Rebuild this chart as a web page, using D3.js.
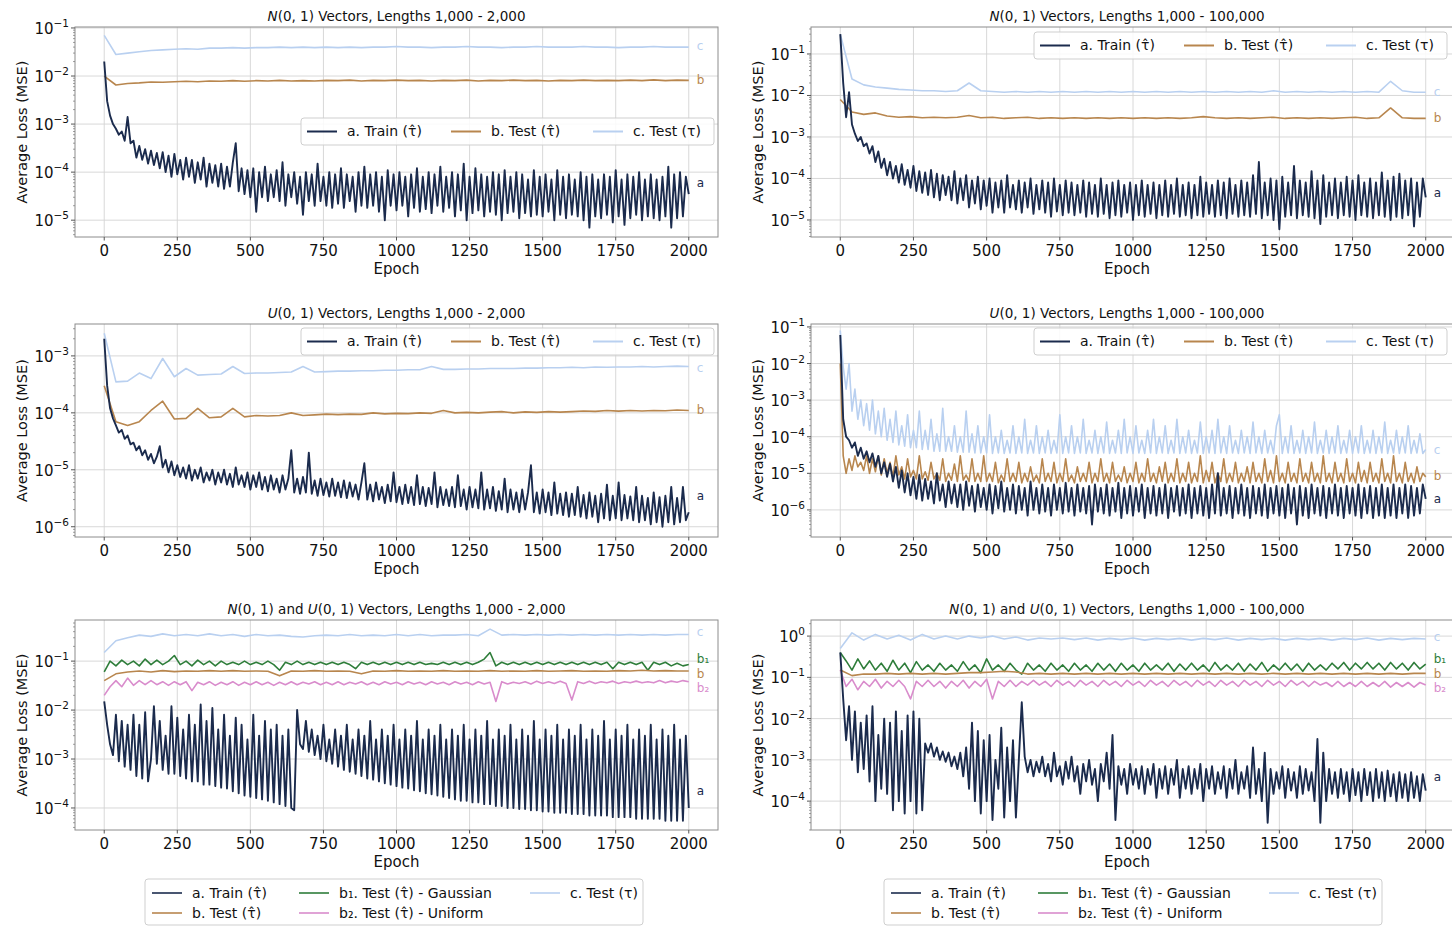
<!DOCTYPE html>
<html>
<head>
<meta charset="utf-8">
<script src="https://cdn.jsdelivr.net/npm/d3@7"></script>
<style>
body { margin: 0; background: #fff; }
svg { display: block; font-family: "DejaVu Sans", sans-serif; }
</style>
</head>
<body>
<svg id="chart" width="1452" height="926"></svg>
<script>
// epochs 0..2000, each array evenly spaced over that range

// ---- N(0,1), lengths 1,000 - 2,000
var p1A = [2e-2,3e-3,1.5e-3,1e-3,8e-4,6e-4,7e-4,4.5e-4,1.4e-3,4e-4,
4.5e-4,2e-4,3.5e-4,1.8e-4,3e-4,1.5e-4,2.8e-4,1.4e-4,2.5e-4,1.2e-4,
2.6e-4,1e-4,2.2e-4,8e-5,2.4e-4,9e-5,1.8e-4,7e-5,2e-4,8e-5,
1.8e-4,6e-5,1.6e-4,7e-5,2e-4,5e-5,1.5e-4,6e-5,1.4e-4,5e-5,
1.5e-4,4.5e-5,1.3e-4,5e-5,1.6e-4,4e-4,4e-5,1.2e-4,3.5e-5,1.1e-4,
3e-5,1.2e-4,1.5e-5,1e-4,3e-5,1.3e-4,2.5e-5,9e-5,3e-5,1.1e-4,
2.5e-5,1.6e-4,2e-5,9e-5,3e-5,1e-4,2.2e-5,8e-5,1.3e-5,1e-4,
2.5e-5,9e-5,2e-5,1.5e-4,2.5e-5,8e-5,2e-5,1e-4,1.8e-5,9e-5,
2.2e-5,1.2e-4,1.8e-5,9e-5,2.5e-5,8e-5,1.5e-5,1e-4,2e-5,1.3e-4,
1.8e-5,9e-5,2e-5,1e-4,1.5e-5,8e-5,1e-5,1.1e-4,2e-5,9e-5,
1.6e-5,1e-4,2e-5,8e-5,1.2e-5,9e-5,1.8e-5,1.2e-4,1.5e-5,8e-5,
1.7e-5,1e-4,1.4e-5,9e-5,2e-5,1.3e-4,1.5e-5,8e-5,1.8e-5,1e-4,
1.2e-5,9e-5,1.6e-5,1.5e-4,1e-5,8e-5,1.4e-5,1.2e-4,1.6e-5,9e-5,
1.2e-5,8e-5,1.5e-5,1e-4,1.3e-5,9e-5,1e-5,1.1e-4,1.4e-5,8e-5,
1.5e-5,1e-4,1.1e-5,9e-5,1.4e-5,7e-5,1.2e-5,1.1e-4,1.3e-5,8e-5,
1.2e-5,9e-5,1.5e-5,7e-5,1e-5,1.1e-4,1.3e-5,8e-5,1.1e-5,9e-5,
1.3e-5,7e-5,1.2e-5,1e-4,1e-5,8e-5,7e-6,9e-5,1.2e-5,7e-5,
1.1e-5,9e-5,1.3e-5,8e-5,9e-6,1.1e-4,1.2e-5,7e-5,8e-6,9e-5,
1.1e-5,8e-5,1.3e-5,1e-4,1e-5,7e-5,1.2e-5,9e-5,1.1e-5,7e-5,
1e-5,8e-5,1.2e-5,1.3e-4,7e-6,9e-5,1.1e-5,1e-4,1.2e-5,8e-5,
3.5e-5];
var p1B = [1e-2,6.5e-3,7e-3,7.2e-3,7.5e-3,7.4e-3,7.6e-3,7.8e-3,7.6e-3,7.9e-3,
7.8e-3,8e-3,7.8e-3,8e-3,7.9e-3,8.1e-3,7.9e-3,8e-3,7.9e-3,8.1e-3,
8e-3,8.2e-3,7.9e-3,8.1e-3,8e-3,8.2e-3,8e-3,8.1e-3,7.9e-3,8.1e-3,
8e-3,8.2e-3,7.9e-3,8.1e-3,8e-3,8.2e-3,8e-3,8.1e-3,7.9e-3,8.1e-3,
8e-3,8.2e-3,8e-3,8.1e-3,8e-3,8.2e-3,8e-3,8.3e-3,8e-3,8.2e-3,
8.1e-3];
var p1C = [7e-2,2.8e-2,3e-2,3.2e-2,3.4e-2,3.5e-2,3.6e-2,3.7e-2,3.6e-2,3.8e-2,
3.8e-2,3.9e-2,3.8e-2,3.9e-2,3.9e-2,4e-2,3.9e-2,4e-2,3.9e-2,4e-2,
3.9e-2,4e-2,3.9e-2,4e-2,4e-2,4.1e-2,4e-2,4e-2,3.9e-2,4e-2,
4e-2,4.1e-2,4e-2,4e-2,3.9e-2,4e-2,4e-2,4.1e-2,4e-2,4e-2,
4e-2,4.1e-2,4e-2,4e-2,3.9e-2,4e-2,4e-2,4.1e-2,4e-2,4e-2,
4e-2];

// ---- N(0,1), lengths 1,000 - 100,000
var p2A = [3e-1,2e-2,3e-3,1.2e-2,2e-3,1.2e-3,8e-4,1e-3,6e-4,7e-4,
4e-4,6e-4,2.5e-4,4.5e-4,1.8e-4,3e-4,1.2e-4,2.5e-4,1e-4,2e-4,
8e-5,2.2e-4,7e-5,1.6e-4,6e-5,2e-4,5e-5,1.5e-4,4.5e-5,1.4e-4,
4e-5,1.6e-4,3.5e-5,1.3e-4,3e-5,1.2e-4,4e-5,1.1e-4,3e-5,1.5e-4,
2.5e-5,1e-4,3e-5,1.2e-4,2e-5,9e-5,2.5e-5,1.1e-4,1.8e-5,9e-5,
2.2e-5,1e-4,1.5e-5,8e-5,2e-5,9e-5,1.5e-5,1.2e-4,2e-5,7e-5,
1.8e-5,9e-5,1.5e-5,8e-5,2e-5,1e-4,1.4e-5,7e-5,1.8e-5,9e-5,
1.5e-5,8e-5,1.2e-5,1e-4,1.6e-5,7e-5,1.3e-5,9e-5,1.5e-5,8e-5,
1.3e-5,7e-5,1.5e-5,9e-5,1.2e-5,8e-5,1.4e-5,7e-5,1.2e-5,1e-4,
1.4e-5,7e-5,1.1e-5,8e-5,1.3e-5,9e-5,1.2e-5,7e-5,1.5e-5,8e-5,
1e-5,7e-5,1.3e-5,9e-5,1.2e-5,7e-5,1.4e-5,8e-5,1.1e-5,7e-5,
1.3e-5,9e-5,1.2e-5,7e-5,1.4e-5,1e-4,1.2e-5,7e-5,1.3e-5,8e-5,
1.1e-5,7e-5,1.3e-5,1.1e-4,1.2e-5,8e-5,1.4e-5,7e-5,1.2e-5,9e-5,
1.3e-5,8e-5,1.1e-5,1e-4,1.4e-5,7e-5,1.2e-5,9e-5,1.3e-5,8e-5,
1.2e-5,1.2e-4,1.4e-5,2.5e-4,1.1e-5,8e-5,1.3e-5,1e-4,1e-5,9e-5,
6e-6,1.1e-4,1.2e-5,8e-5,1.3e-5,2e-4,1.1e-5,9e-5,1.3e-5,8e-5,
1.2e-5,1.5e-4,1.1e-5,9e-5,8e-6,1.2e-4,1.2e-5,8e-5,1.3e-5,1e-4,
1.1e-5,8e-5,1.3e-5,1.1e-4,1.2e-5,9e-5,1e-5,1.2e-4,1.3e-5,8e-5,
1.2e-5,1e-4,1.1e-5,8e-5,1.3e-5,1.4e-4,1.2e-5,9e-5,1e-5,1.1e-4,
1.2e-5,1.3e-4,1.1e-5,9e-5,1.3e-5,1e-4,7e-6,8e-5,1.2e-5,1e-4,
3.5e-5];
var p2B = [8e-3,4e-3,3.5e-3,3.8e-3,3.2e-3,3e-3,3.1e-3,2.9e-3,3e-3,2.9e-3,
3e-3,3.3e-3,2.9e-3,3e-3,2.8e-3,2.9e-3,3e-3,2.8e-3,2.9e-3,2.8e-3,
2.9e-3,2.8e-3,2.9e-3,2.8e-3,2.9e-3,2.8e-3,2.9e-3,2.8e-3,2.9e-3,2.8e-3,
2.9e-3,3.1e-3,2.9e-3,2.8e-3,2.9e-3,2.8e-3,2.9e-3,3e-3,2.8e-3,2.9e-3,
2.8e-3,2.9e-3,2.8e-3,2.9e-3,3e-3,2.8e-3,2.9e-3,5e-3,2.9e-3,2.8e-3,
2.8e-3];
var p2C = [3e-1,2.5e-2,1.8e-2,1.6e-2,1.5e-2,1.4e-2,1.35e-2,1.3e-2,1.3e-2,1.25e-2,
1.3e-2,2e-2,1.3e-2,1.25e-2,1.2e-2,1.25e-2,1.2e-2,1.25e-2,1.2e-2,1.25e-2,
1.2e-2,1.25e-2,1.2e-2,1.25e-2,1.2e-2,1.25e-2,1.2e-2,1.25e-2,1.2e-2,1.25e-2,
1.2e-2,1.25e-2,1.2e-2,1.25e-2,1.2e-2,1.25e-2,1.2e-2,1.3e-2,1.2e-2,1.25e-2,
1.2e-2,1.25e-2,1.2e-2,1.25e-2,1.2e-2,1.25e-2,1.2e-2,2.2e-2,1.3e-2,1.2e-2,
1.2e-2];

// ---- U(0,1), lengths 1,000 - 2,000
var p3A = [2e-3,3e-4,1.2e-4,8e-5,6e-5,4.5e-5,5e-5,3.5e-5,4e-5,2.8e-5,
3e-5,2.2e-5,2.6e-5,1.8e-5,2.2e-5,1.5e-5,1.9e-5,1.3e-5,1.7e-5,2.6e-5,
1.1e-5,1.5e-5,9e-6,1.4e-5,8e-6,1.2e-5,7.5e-6,1.1e-5,7e-6,1.2e-5,
6.5e-6,1e-5,7e-6,1.1e-5,6e-6,9e-6,6.5e-6,1e-5,5.5e-6,9e-6,
6e-6,1e-5,5.5e-6,8.5e-6,5e-6,1.1e-5,5.5e-6,8e-6,5e-6,9e-6,
4.5e-6,8e-6,5e-6,9e-6,4.5e-6,7.5e-6,4.2e-6,8e-6,4.5e-6,7e-6,
4e-6,8e-6,4.5e-6,7e-6,2.2e-5,4e-6,7e-6,3.8e-6,7.5e-6,4e-6,
2e-5,3.8e-6,6.5e-6,3.5e-6,7e-6,3.6e-6,6e-6,3.4e-6,7e-6,3.5e-6,
6e-6,3.3e-6,6.5e-6,3.2e-6,6e-6,3.4e-6,5.5e-6,3e-6,6e-6,1.3e-5,
3e-6,5.5e-6,2.8e-6,6e-6,3e-6,5e-6,2.6e-6,5.5e-6,2.8e-6,9e-6,
2.7e-6,5e-6,2.5e-6,5.5e-6,2.6e-6,5e-6,2.4e-6,8e-6,2.5e-6,5e-6,
2.3e-6,4.8e-6,2.5e-6,9e-6,2.2e-6,5e-6,2.4e-6,4.5e-6,2.3e-6,5e-6,
2.2e-6,8e-6,2.3e-6,4.5e-6,2e-6,5e-6,2.2e-6,4.5e-6,2.1e-6,9e-6,
2e-6,4.5e-6,2.1e-6,5e-6,1.9e-6,4.2e-6,2e-6,7e-6,1.8e-6,4.5e-6,
2e-6,4e-6,1.8e-6,4.5e-6,2e-6,4e-6,1.2e-5,1.8e-6,4e-6,1.7e-6,
4.5e-6,1.8e-6,4e-6,1.6e-6,6e-6,1.7e-6,3.8e-6,1.6e-6,4e-6,1.5e-6,
3.8e-6,1.6e-6,5e-6,1.5e-6,3.6e-6,1.4e-6,4e-6,1.5e-6,3.5e-6,1.2e-6,
3.8e-6,1.4e-6,5.5e-6,1.3e-6,3.5e-6,1.4e-6,6e-6,1.3e-6,3.6e-6,1.4e-6,
3.4e-6,1.3e-6,5e-6,1.2e-6,3.5e-6,1.3e-6,3.2e-6,1.1e-6,4e-6,1.2e-6,
3.3e-6,1e-6,3.5e-6,1.2e-6,5e-6,1.1e-6,3.2e-6,1.2e-6,5e-6,1.3e-6,
1.8e-6];
var p3B = [3e-4,7e-5,6e-5,7e-5,1.1e-4,1.6e-4,7.8e-5,8e-5,1.2e-4,8.2e-5,
8.5e-5,1.2e-4,8.5e-5,9e-5,8.8e-5,9e-5,1e-4,9e-5,9.2e-5,9.5e-5,
9.3e-5,9.5e-5,9.4e-5,1e-4,9.6e-5,9.8e-5,9.7e-5,1e-4,9.8e-5,1.1e-4,
1e-4,1.02e-4,1e-4,1.03e-4,1.05e-4,1e-4,1.04e-4,1.02e-4,1.05e-4,1.03e-4,
1.05e-4,1.08e-4,1.06e-4,1.1e-4,1.07e-4,1.1e-4,1.08e-4,1.1e-4,1.09e-4,1.12e-4,
1.1e-4];
var p3C = [2.5e-3,3.5e-4,3.6e-4,5e-4,4e-4,9e-4,4.3e-4,6e-4,4.6e-4,4.7e-4,
4.8e-4,6.5e-4,4.9e-4,5e-4,5e-4,5.1e-4,5.2e-4,6.5e-4,5.2e-4,5.3e-4,
5.4e-4,5.4e-4,5.5e-4,5.5e-4,5.6e-4,5.6e-4,5.7e-4,5.7e-4,6.5e-4,5.8e-4,
5.8e-4,5.9e-4,5.9e-4,6e-4,6e-4,6e-4,6.1e-4,6.1e-4,6.2e-4,6.2e-4,
6.3e-4,6.2e-4,6.4e-4,6.3e-4,6.4e-4,6.4e-4,6.5e-4,6.4e-4,6.5e-4,6.6e-4,
6.5e-4];

// ---- U(0,1), lengths 1,000 - 100,000
var p4A = [6e-2,3e-4,1e-4,8e-5,5e-5,7e-5,3e-5,5e-5,2.5e-5,4e-5,
2e-5,3.5e-5,1.5e-5,3e-5,1e-5,2e-5,8e-6,1.8e-5,6e-6,1.5e-5,
4e-6,1.2e-5,3e-6,1e-5,2.5e-6,8e-6,2e-6,9e-6,1.8e-6,7e-6,
2e-6,6e-6,1.5e-6,1e-5,1.8e-6,5e-6,1.2e-6,6e-6,1.5e-6,5e-6,
1.2e-6,5e-6,1e-6,6e-6,1.3e-6,4.5e-6,9e-7,5e-6,1.2e-6,4e-6,
1e-6,5e-6,8e-7,4.5e-6,1.1e-6,6e-6,9e-7,4e-6,1e-6,5e-6,
8e-7,4.5e-6,1e-6,4e-6,7e-7,6e-6,1e-6,4e-6,8e-7,5e-6,
9e-7,4e-6,7e-7,5e-6,1e-6,4e-6,8e-7,5.5e-6,9e-7,4e-6,
7e-7,5e-6,9e-7,4e-6,8e-7,4.5e-6,4e-7,5e-6,9e-7,4e-6,
8e-7,5e-6,7e-7,4e-6,9e-7,5.5e-6,6e-7,4e-6,8e-7,4.5e-6,
7e-7,4e-6,9e-7,5e-6,6e-7,4e-6,8e-7,4.5e-6,7e-7,4e-6,
8e-7,5e-6,6e-7,4e-6,9e-7,4.5e-6,7e-7,4e-6,8e-7,5e-6,
6e-7,4e-6,8e-7,4.5e-6,7e-7,4e-6,6e-7,5e-6,8e-7,1e-5,
7e-7,4e-6,8e-7,4.5e-6,6e-7,4e-6,8e-7,5e-6,7e-7,4e-6,
6e-7,4.5e-6,8e-7,4e-6,7e-7,5e-6,6e-7,4e-6,8e-7,4.5e-6,
7e-7,4e-6,6e-7,5e-6,8e-7,4e-6,4e-7,4.5e-6,7e-7,4e-6,
6e-7,5e-6,8e-7,4e-6,7e-7,4.5e-6,6e-7,4e-6,8e-7,5e-6,
7e-7,4e-6,6e-7,4.5e-6,8e-7,4e-6,7e-7,5e-6,6e-7,4e-6,
8e-7,4.5e-6,6e-7,4e-6,7e-7,5e-6,6e-7,4e-6,7e-7,5e-6,
6e-7,4e-6,8e-7,5e-6,6e-7,4.5e-6,7e-7,4e-6,8e-7,5e-6,
2e-6];
var p4B = [1e-2,3e-5,1e-5,2.5e-5,1.2e-5,3e-5,1.5e-5,2e-5,1.2e-5,3e-5,
1e-5,2.5e-5,1.1e-5,3e-5,9e-6,2.5e-5,1e-5,2e-5,8e-6,3e-5,
9e-6,1.5e-5,7e-6,2.5e-5,8e-6,1.2e-5,7e-6,3e-5,7e-6,1.1e-5,
6.5e-6,2e-5,7e-6,1e-5,6.5e-6,2.5e-5,6e-6,1e-5,6.5e-6,1.8e-5,
6e-6,3e-5,6.5e-6,9e-6,6e-6,2.5e-5,6e-6,1e-5,6e-6,3e-5,
6e-6,1e-5,6e-6,2e-5,5.5e-6,9e-6,6e-6,2.5e-5,6e-6,1e-5,
6e-6,2e-5,5.5e-6,1e-5,6e-6,1.5e-5,6e-6,9e-6,5.5e-6,2.5e-5,
6e-6,1e-5,6e-6,2e-5,5.5e-6,1e-5,6e-6,2.5e-5,6e-6,9e-6,
5.5e-6,1.5e-5,6e-6,1e-5,6e-6,2e-5,5.5e-6,1e-5,6e-6,2.5e-5,
6e-6,1e-5,5.5e-6,2e-5,6e-6,9e-6,6e-6,1.5e-5,5.5e-6,1e-5,
6e-6,2e-5,5.5e-6,1e-5,6e-6,2.5e-5,6e-6,1e-5,5.5e-6,1.5e-5,
6e-6,2e-5,5.5e-6,1e-5,6e-6,2.5e-5,5.5e-6,1e-5,6e-6,2e-5,
5.5e-6,1e-5,6e-6,3e-5,5.5e-6,1.2e-5,6e-6,2e-5,5.5e-6,1e-5,
6e-6,2.5e-5,5.5e-6,1e-5,6e-6,2e-5,5.5e-6,1e-5,6e-6,1.5e-5,
5.5e-6,2e-5,6e-6,1e-5,5.5e-6,2.5e-5,6e-6,1.2e-5,5.5e-6,3e-5,
6e-6,1e-5,5.5e-6,2e-5,6e-6,1e-5,5.5e-6,2.5e-5,6e-6,1e-5,
5.5e-6,2e-5,6e-6,1e-5,5.5e-6,3e-5,6e-6,1e-5,5.5e-6,2e-5,
6e-6,1e-5,5.5e-6,2.5e-5,6e-6,1e-5,5.5e-6,2e-5,6e-6,1.2e-5,
5.5e-6,2e-5,6e-6,1e-5,5.5e-6,2.5e-5,6e-6,1e-5,5.5e-6,3e-5,
6e-6,1e-5,5.5e-6,2e-5,6e-6,1e-5,5.5e-6,1.5e-5,6e-6,1e-5,
8e-6];
var p4C = [8e-2,8e-3,2e-3,1e-2,5e-4,2e-3,3e-4,1e-3,2e-4,8e-4,
1.5e-4,1e-3,1.2e-4,5e-4,1e-4,6e-4,8e-5,3e-4,7e-5,5e-4,
6e-5,2e-4,5.5e-5,4e-4,5e-5,1.5e-4,5e-5,5e-4,4.5e-5,1.5e-4,
4.5e-5,3e-4,4e-5,1.2e-4,4e-5,6e-4,4e-5,1e-4,4e-5,2e-4,
3.8e-5,1e-4,3.8e-5,5e-4,3.8e-5,1.2e-4,3.6e-5,2e-4,3.6e-5,1e-4,
3.6e-5,4e-4,3.5e-5,1e-4,3.6e-5,1.5e-4,3.5e-5,8e-5,3.6e-5,2e-4,
3.5e-5,1e-4,3.6e-5,3e-4,3.5e-5,8e-5,3.6e-5,2e-4,3.5e-5,1e-4,
3.6e-5,1.5e-4,3.5e-5,8e-5,3.6e-5,4e-4,3.5e-5,1e-4,3.6e-5,2e-4,
3.5e-5,1e-4,3.6e-5,3e-4,3.5e-5,8e-5,3.6e-5,1.5e-4,3.5e-5,1e-4,
3.6e-5,2.5e-4,3.5e-5,8e-5,3.6e-5,1.5e-4,3.5e-5,3e-4,3.6e-5,1e-4,
3.5e-5,2e-4,3.6e-5,8e-5,3.5e-5,1.5e-4,3.6e-5,3e-4,3.5e-5,1e-4,
3.6e-5,2e-4,3.5e-5,8e-5,3.6e-5,3e-4,3.5e-5,1e-4,3.6e-5,1.5e-4,
3.5e-5,8e-5,3.6e-5,2.5e-4,3.5e-5,1e-4,3.6e-5,1.5e-4,3.5e-5,3e-4,
3.6e-5,1e-4,3.5e-5,2e-4,3.6e-5,8e-5,3.5e-5,1.5e-4,3.6e-5,1e-4,
3.5e-5,2.5e-4,3.6e-5,1e-4,3.5e-5,1.5e-4,3.6e-5,8e-5,3.5e-5,2e-4,
4e-4,3.5e-5,1e-4,3.6e-5,2e-4,3.5e-5,8e-5,3.6e-5,1.5e-4,3.5e-5,
1e-4,3.6e-5,2.5e-4,3.5e-5,8e-5,3.6e-5,1.5e-4,3.5e-5,1e-4,3.6e-5,
2e-4,3.5e-5,8e-5,3.6e-5,1.5e-4,3.5e-5,1e-4,3.6e-5,2e-4,3.5e-5,
8e-5,3.6e-5,1.5e-4,3.5e-5,1e-4,3.6e-5,2.5e-4,3.5e-5,8e-5,3.6e-5,
1.5e-4,3.5e-5,1e-4,3.6e-5,2e-4,3.5e-5,8e-5,3.6e-5,1.2e-4,3.5e-5,
4.5e-5];

// ---- N(0,1) and U(0,1), lengths 1,000 - 2,000
var p5A = [1.5e-2,5e-3,2e-3,1.2e-3,8e-3,9e-4,6e-3,7e-4,5e-3,6e-4,
8e-3,4.5e-4,5e-3,4e-4,9e-3,3.5e-4,1e-3,1.2e-2,8e-4,6e-3,
6e-4,3e-3,5e-4,1.2e-2,5e-4,7e-3,4.5e-4,4e-3,4e-4,8e-3,
3.5e-4,5e-3,3.5e-4,1.3e-2,3e-4,6e-3,3e-4,1.1e-2,2.8e-4,4e-3,
2.6e-4,8e-3,2.5e-4,3e-3,2.2e-4,7e-3,2e-4,5e-3,1.8e-4,2.5e-3,
1.7e-4,8e-3,1.6e-4,3e-3,1.5e-4,6e-3,1.4e-4,4e-3,1.3e-4,5e-3,
1.2e-4,3e-3,1.1e-4,4e-3,1e-4,9e-5,1e-2,2e-3,1.6e-3,6e-3,
1.4e-3,4e-3,1.2e-3,3e-3,1e-3,5e-3,9e-4,2.5e-3,8e-4,4e-3,
7e-4,3e-3,6e-4,5e-3,5.5e-4,2.5e-3,5e-4,4e-3,4.5e-4,3e-3,
4e-4,6e-3,3.8e-4,2.5e-3,3.5e-4,4e-3,3.2e-4,3e-3,3e-4,5e-3,
2.8e-4,2.5e-3,2.6e-4,4e-3,2.5e-4,3e-3,2.3e-4,6e-3,2.2e-4,2.5e-3,
2e-4,4e-3,1.9e-4,3e-3,1.8e-4,5e-3,1.7e-4,2.5e-3,1.6e-4,4e-3,
1.5e-4,3e-3,1.4e-4,5e-3,1.4e-4,2.5e-3,1.3e-4,4e-3,1.3e-4,3e-3,
1.2e-4,6e-3,1.2e-4,2.5e-3,1.1e-4,4e-3,1.1e-4,3e-3,1e-4,5e-3,
1e-4,2.5e-3,9.5e-5,4e-3,9.5e-5,3e-3,9e-5,6e-3,9e-5,2.5e-3,
8.5e-5,4e-3,8.5e-5,3e-3,8e-5,5e-3,8e-5,2.5e-3,8e-5,4e-3,
7.5e-5,3e-3,7.5e-5,5e-3,7.5e-5,2.5e-3,7e-5,4e-3,7e-5,3e-3,
7e-5,6e-3,7e-5,2.5e-3,6.5e-5,4e-3,6.5e-5,3e-3,6.5e-5,5e-3,
6.5e-5,2.5e-3,6e-5,4e-3,6e-5,3e-3,6e-5,5e-3,6e-5,2.5e-3,
6e-5,4e-3,5.5e-5,3e-3,5.5e-5,5e-3,5.5e-5,2.5e-3,5.5e-5,3e-3,
1e-4];
var p5B = [4e-2,5.5e-2,6e-2,6.3e-2,6e-2,6.4e-2,6.1e-2,6.3e-2,6.2e-2,6.4e-2,
6.2e-2,6.4e-2,6.2e-2,6.3e-2,6.2e-2,5e-2,6.3e-2,6.2e-2,6.4e-2,6.2e-2,
6.3e-2,6.2e-2,5.5e-2,6.3e-2,6.2e-2,6.4e-2,6.2e-2,6.3e-2,6.2e-2,6.4e-2,
6.2e-2,6.3e-2,6.2e-2,6.4e-2,6.2e-2,6.3e-2,6.2e-2,6.4e-2,6.2e-2,6.3e-2,
6.4e-2,6.2e-2,6.3e-2,6.2e-2,6.4e-2,6.3e-2,6.5e-2,6.3e-2,6.4e-2,6.3e-2,
6.3e-2];
var p5B1 = [6e-2,1e-1,8e-2,1.05e-1,8.5e-2,1e-1,8e-2,1.1e-1,8.5e-2,1.05e-1,
8.5e-2,1e-1,1.3e-1,8.5e-2,1e-1,8e-2,1.05e-1,8.5e-2,1e-1,8e-2,
1e-1,8.5e-2,9.5e-2,8.5e-2,1e-1,8.5e-2,9.5e-2,8.5e-2,1e-1,8.5e-2,
6.5e-2,9.5e-2,8.5e-2,1e-1,8.5e-2,9.5e-2,8.5e-2,9.5e-2,8.5e-2,9.5e-2,
8.5e-2,9.5e-2,8.5e-2,7e-2,9.5e-2,8.5e-2,9.5e-2,8.5e-2,9.5e-2,8.5e-2,
9.5e-2,8.5e-2,9.5e-2,8.5e-2,9.5e-2,8.5e-2,9e-2,8.5e-2,9.5e-2,8.5e-2,
9.5e-2,8.5e-2,9.5e-2,8.5e-2,9.5e-2,1.1e-1,1.5e-1,8e-2,9.5e-2,8.5e-2,
9.5e-2,8.5e-2,9.5e-2,8.5e-2,9.5e-2,8.5e-2,9.5e-2,8.5e-2,9.5e-2,8.5e-2,
9.5e-2,8.5e-2,9.5e-2,8.5e-2,9.5e-2,8.5e-2,9.5e-2,7e-2,9.5e-2,8.5e-2,
9.5e-2,8.5e-2,9.5e-2,6.5e-2,9.5e-2,8.5e-2,9.5e-2,8e-2,9e-2,8e-2,
8.5e-2];
var p5B2 = [2e-2,3e-2,4e-2,3e-2,4.5e-2,3.2e-2,4e-2,3.3e-2,4e-2,3.3e-2,
3.8e-2,3.2e-2,3.8e-2,3.3e-2,3.8e-2,2.5e-2,3.7e-2,3.3e-2,3.8e-2,3.2e-2,
3.7e-2,3.3e-2,3.8e-2,3.2e-2,3.7e-2,3.3e-2,3.8e-2,3.3e-2,3.7e-2,3.2e-2,
3.7e-2,3.3e-2,3.8e-2,3.3e-2,3.7e-2,3.4e-2,3.8e-2,3.3e-2,3.7e-2,3.3e-2,
3.8e-2,3.3e-2,3.7e-2,3.4e-2,3.8e-2,3.3e-2,3.7e-2,3.3e-2,3.8e-2,3.4e-2,
3.7e-2,3.3e-2,3.8e-2,3.4e-2,3.7e-2,3.3e-2,3.8e-2,3.4e-2,3.7e-2,3.3e-2,
3.8e-2,3.4e-2,3.7e-2,3.3e-2,3.8e-2,3.4e-2,3.7e-2,1.5e-2,3.8e-2,3.4e-2,
3.7e-2,3.5e-2,3.8e-2,3.4e-2,3.9e-2,3.5e-2,3.8e-2,3.5e-2,3.9e-2,3.5e-2,
1.6e-2,3.8e-2,3.5e-2,3.9e-2,3.5e-2,3.8e-2,3.6e-2,3.9e-2,3.5e-2,3.8e-2,
3.6e-2,3.9e-2,3.6e-2,3.8e-2,3.6e-2,4e-2,3.6e-2,3.9e-2,3.7e-2,4e-2,
3.8e-2];
var p5C = [1.5e-1,2.6e-1,3e-1,3.4e-1,3.2e-1,3.6e-1,3.3e-1,3.5e-1,3.3e-1,3.6e-1,
3.3e-1,3.5e-1,3.2e-1,3.5e-1,3.3e-1,3.4e-1,3.2e-1,3.1e-1,3.3e-1,3.4e-1,
3.3e-1,3.5e-1,3.3e-1,3.4e-1,3.3e-1,3.5e-1,3.3e-1,3.5e-1,3.3e-1,3.4e-1,
3.4e-1,3.5e-1,3.3e-1,4.5e-1,3.4e-1,3.5e-1,3.4e-1,3.5e-1,3.4e-1,3.5e-1,
3.4e-1,3.5e-1,3.4e-1,3.5e-1,3.4e-1,3.5e-1,3.4e-1,3.5e-1,3.4e-1,3.5e-1,
3.5e-1];

// ---- N(0,1) and U(0,1), lengths 1,000 - 100,000
var p6A = [4e-1,3e-2,3e-3,2e-2,1e-3,1.5e-2,5e-4,8e-3,6e-4,1.2e-2,
3e-4,2e-2,1e-4,4e-3,2e-4,1e-2,1.5e-4,8e-3,6e-5,1.5e-2,
1e-4,5e-3,5e-5,1.2e-2,1e-4,1.5e-2,5e-5,1e-2,6e-5,2.5e-3,
1.5e-3,2.5e-3,1.2e-3,2e-3,1e-3,1.6e-3,9e-4,1.5e-3,7e-4,1.2e-3,
6e-4,1.5e-3,4e-4,2e-3,2e-4,8e-3,1e-4,5e-3,5e-5,3e-3,
1e-4,4e-3,3.5e-5,1e-3,2e-4,6e-3,4e-5,2e-3,1e-4,3e-3,
4e-5,1e-3,2.5e-2,1.2e-3,5e-4,1e-3,4e-4,9e-4,5e-4,1.2e-3,
4e-4,8e-4,3e-4,1.5e-3,4e-4,7e-4,2.5e-4,9e-4,3.5e-4,1.2e-3,
3e-4,7e-4,1.5e-4,8e-4,3e-4,1e-3,2.5e-4,6e-4,1e-4,8e-4,
3e-4,1.5e-3,2e-4,4e-3,3.5e-5,7e-4,2.5e-4,6e-4,1.5e-4,8e-4,
2.5e-4,6e-4,2e-4,7e-4,1.5e-4,6e-4,2.5e-4,8e-4,1.2e-4,6e-4,
2e-4,7e-4,1.5e-4,6e-4,2.5e-4,1e-3,1.2e-4,6e-4,2e-4,7e-4,
1.5e-4,6e-4,2e-4,8e-4,1e-4,6e-4,2e-4,7e-4,1.5e-4,5e-4,
2e-4,7e-4,1.2e-4,6e-4,2e-4,1e-3,1.5e-4,5e-4,2e-4,7e-4,
1.2e-4,2e-3,1.5e-4,6e-4,1e-4,1.5e-3,3e-5,6e-4,1.5e-4,5e-4,
2e-4,7e-4,1.2e-4,6e-4,1.8e-4,5e-4,1.2e-4,7e-4,1.5e-4,6e-4,
1.8e-4,5e-4,1e-4,3.2e-3,3e-5,1.5e-3,1e-4,6e-4,1.5e-4,5e-4,
1.2e-4,6e-4,1.5e-4,5e-4,1e-4,6e-4,1.4e-4,5e-4,1e-4,6e-4,
1.4e-4,5e-4,1e-4,6e-4,1.2e-4,5e-4,1e-4,5.5e-4,1.3e-4,4.5e-4,
1e-4,5e-4,1.2e-4,4.5e-4,1e-4,5e-4,1.2e-4,4e-4,1e-4,4.5e-4,
1.8e-4];
var p6B = [0.15,0.11,0.12,0.12,0.125,0.12,0.125,0.12,0.125,0.12,
0.125,0.13,0.13,0.135,0.14,0.135,0.12,0.125,0.12,0.125,
0.12,0.125,0.12,0.125,0.12,0.125,0.12,0.125,0.12,0.125,
0.12,0.125,0.12,0.125,0.12,0.125,0.12,0.125,0.12,0.125,
0.12,0.125,0.12,0.125,0.12,0.125,0.12,0.125,0.12,0.125,
0.125];
var p6B1 = [0.4,0.25,0.15,0.28,0.16,0.25,0.15,0.22,0.14,0.26,
0.15,0.22,0.13,0.24,0.15,0.2,0.14,0.22,0.15,0.2,
0.14,0.24,0.15,0.2,0.13,0.28,0.15,0.2,0.14,0.22,
0.15,0.12,0.22,0.15,0.2,0.14,0.22,0.15,0.2,0.14,
0.22,0.15,0.2,0.14,0.22,0.15,0.21,0.14,0.22,0.15,
0.2,0.14,0.22,0.15,0.2,0.15,0.22,0.14,0.21,0.15,
0.22,0.15,0.2,0.14,0.23,0.15,0.2,0.15,0.22,0.14,
0.21,0.15,0.23,0.14,0.2,0.15,0.22,0.15,0.21,0.14,
0.22,0.15,0.2,0.15,0.22,0.16,0.23,0.15,0.22,0.16,
0.23,0.16,0.22,0.15,0.23,0.16,0.22,0.15,0.23,0.16,
0.21];
var p6B2 = [0.15,0.06,0.09,0.05,0.08,0.06,0.09,0.055,0.08,0.06,
0.085,0.06,0.03,0.08,0.06,0.085,0.06,0.08,0.055,0.08,
0.06,0.085,0.055,0.08,0.06,0.09,0.03,0.08,0.06,0.085,
0.06,0.08,0.065,0.085,0.065,0.08,0.06,0.085,0.065,0.08,
0.06,0.085,0.065,0.08,0.06,0.085,0.065,0.08,0.06,0.085,
0.065,0.08,0.06,0.085,0.065,0.08,0.06,0.085,0.065,0.08,
0.06,0.085,0.065,0.08,0.06,0.085,0.065,0.08,0.06,0.085,
0.065,0.08,0.06,0.085,0.065,0.08,0.06,0.085,0.065,0.08,
0.06,0.08,0.065,0.075,0.06,0.08,0.06,0.075,0.06,0.08,
0.06,0.075,0.06,0.08,0.058,0.075,0.06,0.075,0.058,0.075,
0.065];
var p6C = [0.5,1.2,0.8,1.1,0.85,1.05,0.8,1.1,0.85,1.0,
0.85,1.0,0.9,1.0,0.85,0.95,0.8,0.9,0.85,0.9,
0.82,0.9,0.8,0.88,0.82,0.9,0.8,0.88,0.82,0.88,
0.8,0.88,0.82,0.9,0.8,0.88,0.82,0.88,0.8,0.88,
0.82,0.88,0.8,0.88,0.82,0.9,0.8,0.88,0.82,0.88,
0.85];

var xTickValues = [0, 250, 500, 750, 1000, 1250, 1500, 1750, 2000];

var colA = "#1b2b4d", colB = "#b8864e", colC = "#b9d0f0", colB1 = "#2e7d3a", colB2 = "#d98ccc";
var nameA = "a. Train (\u03c4\u0302)", nameB = "b. Test (\u03c4\u0302)", nameC = "c. Test (\u03c4)";
var nameB1 = "b\u2081. Test (\u03c4\u0302) - Gaussian", nameB2 = "b\u2082. Test (\u03c4\u0302) - Uniform";

var shortTitle = "(0, 1) Vectors, Lengths 1,000 - ";

var panels = [
  { x0: 75, x1: 718, y0: 27, y1: 237, ylog: [-5.35, -0.98],
    title: [["N", 1], [shortTitle + "2,000", 0]],
    legend: { kind: "inside", x: 301, y: 118 },
    series: [
      { d: p1A, c: colA, n: nameA, tag: "a", at: 5.9e-5 },
      { d: p1B, c: colB, n: nameB, tag: "b", at: 8.3e-3 },
      { d: p1C, c: colC, n: nameC, tag: "c", at: 4.2e-2 } ] },
  { x0: 811, x1: 1455, y0: 27, y1: 237, ylog: [-5.41, -0.35],
    title: [["N", 1], [shortTitle + "100,000", 0]],
    legend: { kind: "inside", x: 1034, y: 32 },
    series: [
      { d: p2A, c: colA, n: nameA, tag: "a", at: 4.5e-5 },
      { d: p2B, c: colB, n: nameB, tag: "b", at: 2.9e-3 },
      { d: p2C, c: colC, n: nameC, tag: "c", at: 1.2e-2 } ] },
  { x0: 75, x1: 718, y0: 324, y1: 537, ylog: [-6.18, -2.44],
    title: [["U", 1], [shortTitle + "2,000", 0]],
    legend: { kind: "inside", x: 301, y: 328 },
    series: [
      { d: p3A, c: colA, n: nameA, tag: "a", at: 3.5e-6 },
      { d: p3B, c: colB, n: nameB, tag: "b", at: 1.12e-4 },
      { d: p3C, c: colC, n: nameC, tag: "c", at: 6.1e-4 } ] },
  { x0: 811, x1: 1455, y0: 324, y1: 537, ylog: [-6.74, -0.92],
    title: [["U", 1], [shortTitle + "100,000", 0]],
    legend: { kind: "inside", x: 1034, y: 328 },
    series: [
      { d: p4A, c: colA, n: nameA, tag: "a", at: 2e-6 },
      { d: p4B, c: colB, n: nameB, tag: "b", at: 8.5e-6 },
      { d: p4C, c: colC, n: nameC, tag: "c", at: 4.3e-5 } ] },
  { x0: 75, x1: 718, y0: 620, y1: 830, ylog: [-4.45, -0.16],
    title: [["N", 1], ["(0, 1) and ", 0], ["U", 1], [shortTitle + "2,000", 0]],
    legend: { kind: "below", x: 145, y: 879 },
    series: [
      { d: p5A, c: colA, n: nameA, tag: "a", at: 2.2e-4 },
      { d: p5B, c: colB, n: nameB, tag: "b", at: 5.6e-2 },
      { d: p5B1, c: colB1, n: nameB1, tag: "b\u2081", at: 0.111 },
      { d: p5B2, c: colB2, n: nameB2, tag: "b\u2082", at: 2.8e-2 },
      { d: p5C, c: colC, n: nameC, tag: "c", at: 0.39 } ] },
  { x0: 811, x1: 1455, y0: 620, y1: 830, ylog: [-4.70, 0.39],
    title: [["N", 1], ["(0, 1) and ", 0], ["U", 1], [shortTitle + "100,000", 0]],
    legend: { kind: "below", x: 884, y: 879 },
    series: [
      { d: p6A, c: colA, n: nameA, tag: "a", at: 3.9e-4 },
      { d: p6B, c: colB, n: nameB, tag: "b", at: 0.121 },
      { d: p6B1, c: colB1, n: nameB1, tag: "b\u2081", at: 0.279 },
      { d: p6B2, c: colB2, n: nameB2, tag: "b\u2082", at: 5.5e-2 },
      { d: p6C, c: colC, n: nameC, tag: "c", at: 0.95 } ] }
];

var svg = d3.select("#chart");
var defs = svg.append("defs");

function powLabel(sel, k) {
  sel.text("10");
  sel.append("tspan").attr("dy", -7).attr("font-size", 10.5)
    .text(String(k).replace("-", "\u2212"));
}

panels.forEach(function(p, idx) {
  var x = d3.scaleLinear().domain([-100, 2100]).range([p.x0, p.x1]);
  var y = d3.scaleLog()
    .domain([Math.pow(10, p.ylog[0]), Math.pow(10, p.ylog[1])])
    .range([p.y1, p.y0]);
  var g = svg.append("g");

  defs.append("clipPath").attr("id", "clip" + idx)
    .append("rect").attr("x", p.x0).attr("y", p.y0)
    .attr("width", p.x1 - p.x0).attr("height", p.y1 - p.y0);

  // decades + minor ticks
  var decades = d3.range(Math.ceil(p.ylog[0]), Math.floor(p.ylog[1]) + 1);
  var minors = [];
  d3.range(Math.floor(p.ylog[0]), Math.floor(p.ylog[1]) + 1).forEach(function(k) {
    for (var m = 2; m < 10; m++) {
      var v = m * Math.pow(10, k);
      if (Math.log10(v) >= p.ylog[0] && Math.log10(v) <= p.ylog[1]) minors.push(v);
    }
  });

  // grid
  g.append("g").selectAll("line").data(xTickValues).join("line")
    .attr("x1", function(d) { return x(d); }).attr("x2", function(d) { return x(d); })
    .attr("y1", p.y0).attr("y2", p.y1)
    .attr("stroke", "#d4d4d4").attr("stroke-width", 0.9);
  g.append("g").selectAll("line").data(decades).join("line")
    .attr("x1", p.x0).attr("x2", p.x1)
    .attr("y1", function(k) { return y(Math.pow(10, k)); })
    .attr("y2", function(k) { return y(Math.pow(10, k)); })
    .attr("stroke", "#d4d4d4").attr("stroke-width", 0.9);

  // lines, drawn last series first so the train line ends on top
  var line = d3.line().curve(d3.curveLinear);
  var lineG = g.append("g").attr("clip-path", "url(#clip" + idx + ")");
  p.series.slice().reverse().forEach(function(s) {
    var n = s.d.length;
    line.x(function(v, i) { return x(i * 2000 / (n - 1)); })
        .y(function(v) { return y(v); });
    lineG.append("path")
      .attr("d", line(s.d))
      .attr("fill", "none")
      .attr("stroke", s.c)
      .attr("stroke-width", s.c === colA ? 1.9 : 1.6)
      .attr("stroke-linejoin", "round");
  });

  // frame
  g.append("rect").attr("x", p.x0).attr("y", p.y0)
    .attr("width", p.x1 - p.x0).attr("height", p.y1 - p.y0)
    .attr("fill", "none").attr("stroke", "#8c8c8c").attr("stroke-width", 1);

  // y ticks
  g.append("g").selectAll("line").data(decades).join("line")
    .attr("x1", p.x0 - 4).attr("x2", p.x0)
    .attr("y1", function(k) { return y(Math.pow(10, k)); })
    .attr("y2", function(k) { return y(Math.pow(10, k)); })
    .attr("stroke", "#555");
  g.append("g").selectAll("line").data(minors).join("line")
    .attr("x1", p.x0 - 2).attr("x2", p.x0)
    .attr("y1", function(v) { return y(v); }).attr("y2", function(v) { return y(v); })
    .attr("stroke", "#777").attr("stroke-width", 0.7);
  g.append("g").selectAll("text").data(decades).join("text")
    .attr("x", p.x0 - 6)
    .attr("y", function(k) { return y(Math.pow(10, k)) + 6; })
    .attr("text-anchor", "end").attr("font-size", 15).attr("fill", "#111")
    .each(function(k) { powLabel(d3.select(this), k); });

  // x ticks
  g.append("g").selectAll("line").data(xTickValues).join("line")
    .attr("x1", function(d) { return x(d); }).attr("x2", function(d) { return x(d); })
    .attr("y1", p.y1).attr("y2", p.y1 + 3.5).attr("stroke", "#555");
  g.append("g").selectAll("text").data(xTickValues).join("text")
    .attr("x", function(d) { return x(d); }).attr("y", p.y1 + 19)
    .attr("text-anchor", "middle").attr("font-size", 15).attr("fill", "#111")
    .text(function(d) { return d; });

  // axis labels
  g.append("text").attr("x", (p.x0 + p.x1) / 2 - (idx % 2 ? 6 : 0)).attr("y", p.y1 + 37)
    .attr("text-anchor", "middle").attr("font-size", 15).attr("fill", "#111").text("Epoch");
  g.append("text")
    .attr("transform", "translate(" + (p.x0 - 53) + "," + ((p.y0 + p.y1) / 2) + ") rotate(-90)")
    .attr("text-anchor", "middle").attr("dy", "0.35em")
    .attr("font-size", 14.5).attr("fill", "#111").text("Average Loss (MSE)");

  // title
  var t = g.append("text").attr("x", (p.x0 + p.x1) / 2 - (idx % 2 ? 6 : 0)).attr("y", p.y0 - 6)
    .attr("text-anchor", "middle").attr("font-size", 13.5).attr("fill", "#111");
  p.title.forEach(function(part) {
    t.append("tspan").attr("font-style", part[1] ? "italic" : "normal").text(part[0]);
  });

  // end tags
  g.append("g").selectAll("text").data(p.series).join("text")
    .attr("x", x(2000) + 8).attr("y", function(s) { return y(s.at); })
    .attr("dy", "0.35em").attr("font-size", 12)
    .attr("fill", function(s) { return s.c; })
    .text(function(s) { return s.tag; });

  // legend
  var L = p.legend, lg = g.append("g");
  if (L.kind === "inside") {
    lg.append("rect").attr("x", L.x).attr("y", L.y).attr("width", 413).attr("height", 27)
      .attr("rx", 3).attr("fill", "#fff").attr("fill-opacity", 0.85)
      .attr("stroke", "#cfcfcf");
    var cols = [6, 150, 292];
    p.series.forEach(function(s, i) {
      var hx = L.x + cols[i], hy = L.y + 13.5;
      lg.append("line").attr("x1", hx).attr("x2", hx + 30).attr("y1", hy).attr("y2", hy)
        .attr("stroke", s.c).attr("stroke-width", 2);
      lg.append("text").attr("x", hx + 40).attr("y", hy).attr("dy", "0.35em")
        .attr("font-size", 14).attr("fill", "#111").text(s.n);
    });
  } else {
    lg.append("rect").attr("x", L.x).attr("y", L.y).attr("width", 498).attr("height", 46)
      .attr("rx", 3).attr("fill", "#fff").attr("stroke", "#cfcfcf");
    var colX = [7, 154, 385];
    // matplotlib ncol=3 fills column by column
    p.series.forEach(function(s, i) {
      var hx = L.x + colX[Math.floor(i / 2)], hy = L.y + 14 + (i % 2) * 20;
      lg.append("line").attr("x1", hx).attr("x2", hx + 30).attr("y1", hy).attr("y2", hy)
        .attr("stroke", s.c).attr("stroke-width", 1.6);
      lg.append("text").attr("x", hx + 40).attr("y", hy).attr("dy", "0.35em")
        .attr("font-size", 14).attr("fill", "#111").text(s.n);
    });
  }
});
</script>
</body>
</html>
